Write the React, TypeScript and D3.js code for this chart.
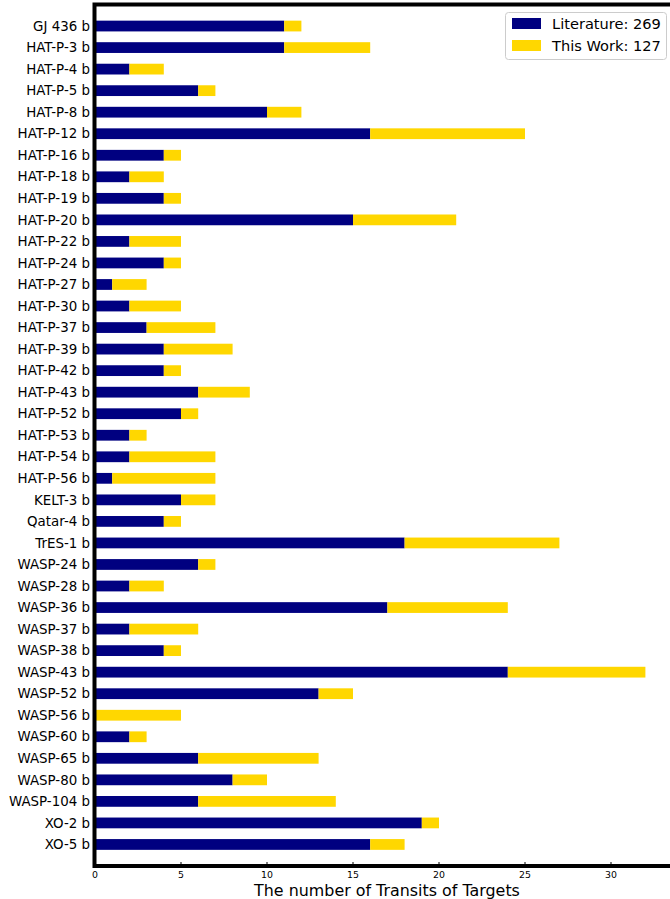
import React from "react";
import * as d3 from "d3";

const targets = [
  "GJ 436 b", "HAT-P-3 b", "HAT-P-4 b", "HAT-P-5 b", "HAT-P-8 b", "HAT-P-12 b",
  "HAT-P-16 b", "HAT-P-18 b", "HAT-P-19 b", "HAT-P-20 b", "HAT-P-22 b", "HAT-P-24 b",
  "HAT-P-27 b", "HAT-P-30 b", "HAT-P-37 b", "HAT-P-39 b", "HAT-P-42 b", "HAT-P-43 b",
  "HAT-P-52 b", "HAT-P-53 b", "HAT-P-54 b", "HAT-P-56 b", "KELT-3 b", "Qatar-4 b",
  "TrES-1 b", "WASP-24 b", "WASP-28 b", "WASP-36 b", "WASP-37 b", "WASP-38 b",
  "WASP-43 b", "WASP-52 b", "WASP-56 b", "WASP-60 b", "WASP-65 b", "WASP-80 b",
  "WASP-104 b", "XO-2 b", "XO-5 b",
];
const literature = [
  11, 11, 2, 6, 10, 16, 4, 2, 4, 15, 2, 4, 1, 2, 3, 4, 4, 6, 5, 2, 2, 1, 5, 4,
  18, 6, 2, 17, 2, 4, 24, 13, 0, 2, 6, 8, 6, 19, 16,
];
const thisWork = [
  1, 5, 2, 1, 2, 9, 1, 2, 1, 6, 3, 1, 2, 3, 4, 4, 1, 3, 1, 1, 5, 6, 2, 1,
  9, 1, 2, 7, 4, 1, 8, 2, 5, 1, 7, 2, 8, 1, 2,
];
const xTicks = [0, 5, 10, 15, 20, 25, 30];
const seriesNames = ["Literature", "This Work"];
const seriesColors = ["#000080", "#FFD700"];

export default function App() {
  const W = 670, H = 899;
  const left = 95, top = 4.5, bottom = 866;
  const x = d3.scaleLinear().domain([0, 33.6]).range([left, left + 33.6 * 17.2]);
  const yc = d3.scaleLinear().domain([-1, targets.length]).range([top, bottom]);
  const barH = 0.5 * (yc(1) - yc(0));
  const totals = [d3.sum(literature), d3.sum(thisWork)];
  const font = "DejaVu Sans, sans-serif";
  const fmt = d3.format("d");

  return (
    <svg width={W} height={H} style={{ position: "absolute", left: 0, top: 0, background: "#fff" }} fontFamily={font}>
      {targets.map((t, i) => {
        const cy = yc(i);
        return (
          <g key={t}>
            <rect x={x(0)} y={cy - barH / 2} width={x(literature[i]) - x(0)} height={barH} fill={seriesColors[0]} />
            <rect x={x(literature[i])} y={cy - barH / 2} width={x(literature[i] + thisWork[i]) - x(literature[i])} height={barH} fill={seriesColors[1]} />
            <text x={90} y={cy} dy="0.35em" textAnchor="end" fontSize={13.4} fill="#000">{t}</text>
          </g>
        );
      })}
      {xTicks.map((v) => (
        <g key={v}>
          <line x1={x(v)} x2={x(v)} y1={bottom} y2={bottom - 4} stroke="#000" strokeWidth={1} />
          <text x={x(v)} y={bottom + 11.5} textAnchor="middle" fontSize={9.4} fill="#000">{fmt(v)}</text>
        </g>
      ))}
      {/* spines */}
      <rect x={x(0) - 0.5} y={top} width={x(33.6) - x(0) + 1} height={bottom - top} fill="none" stroke="#000" strokeWidth={4} />
      <text x={387} y={896} textAnchor="middle" fontSize={15.9} fill="#000">The number of Transits of Targets</text>
      {/* legend */}
      <g>
        <rect x={505.5} y={12.5} width={161} height={47} rx={3} fill="#fff" fillOpacity={0.8} stroke="#ccc" strokeWidth={1} />
        {seriesNames.map((s, k) => (
          <g key={s}>
            <rect x={512} y={18 + k * 22} width={29} height={11} fill={seriesColors[k]} />
            <text x={552} y={23.5 + k * 22} dy="0.35em" fontSize={14.6} fill="#000">{`${s}: ${totals[k]}`}</text>
          </g>
        ))}
      </g>
    </svg>
  );
}
